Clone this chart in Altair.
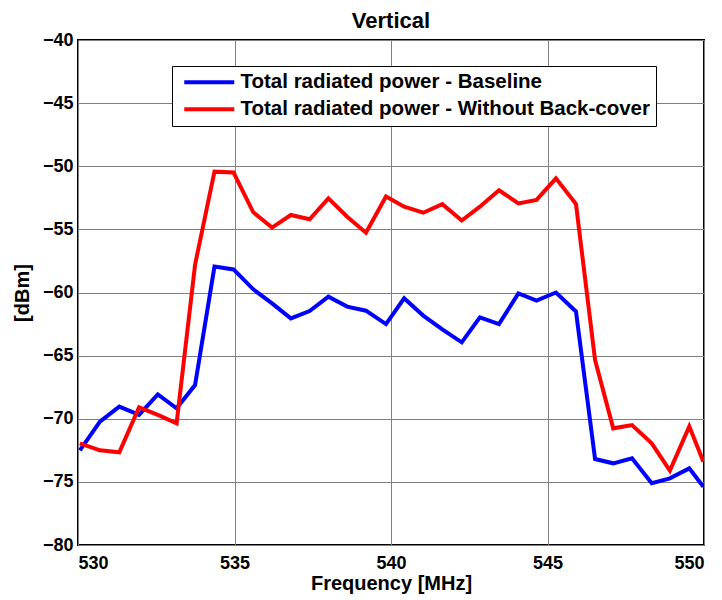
import altair as alt
import pandas as pd

freq = [530.06, 530.70, 531.32, 531.95, 532.55, 533.15, 533.74, 534.36, 534.97, 535.60,
        536.20, 536.80, 537.40, 538.00, 538.60, 539.20, 539.84, 540.42, 541.03, 541.64,
        542.26, 542.84, 543.45, 544.07, 544.65, 545.27, 545.91, 546.52, 547.10, 547.70,
        548.33, 548.91, 549.53, 549.98]

baseline = [-72.5, -70.23, -69.04, -69.7, -68.07, -69.17, -67.33, -57.95, -58.17, -59.75,
            -60.86, -62.05, -61.47, -60.33, -61.12, -61.44, -62.5, -60.46, -61.83, -62.92,
            -63.95, -61.97, -62.5, -60.07, -60.65, -60.0, -61.5, -73.19, -73.53, -73.13,
            -75.11, -74.72, -73.93, -75.38]

without_cover = [-71.95, -72.5, -72.66, -69.1, -69.7, -70.36, -57.8, -50.43, -50.5, -53.65,
                 -54.86, -53.86, -54.2, -52.54, -54.0, -55.26, -52.4, -53.2, -53.68, -53.0,
                 -54.3, -53.2, -51.9, -52.94, -52.67, -50.96, -52.99, -65.35, -70.76, -70.5,
                 -71.95, -74.1, -70.6, -73.4]

series_names = ["Total radiated power - Baseline",
                "Total radiated power - Without Back-cover"]
series_colors = ["#0000FF", "#FF0000"]

x_ticks = [530, 535, 540, 545, 550]
y_ticks = [-80, -75, -70, -65, -60, -55, -50, -45, -40]

n = len(freq)
df = pd.DataFrame({
    "freq": freq + freq,
    "dbm": baseline + without_cover,
    "series": [series_names[0]] * n + [series_names[1]] * n,
    "order": list(range(n)) * 2,
})

FONT = "Liberation Sans"

chart = alt.Chart(df).mark_line(strokeWidth=4, clip=True).encode(
    x=alt.X("freq:Q",
            scale=alt.Scale(domain=[530, 550], nice=False, zero=False),
            axis=alt.Axis(values=x_ticks, title="Frequency [MHz]", labelPadding=9,
                          titlePadding=1, format="d")),
    y=alt.Y("dbm:Q",
            scale=alt.Scale(domain=[-80, -40], nice=False, zero=False),
            axis=alt.Axis(values=y_ticks, title="[dBm]", labelPadding=5,
                          titlePadding=10, format="d")),
    color=alt.Color("series:N",
                    scale=alt.Scale(domain=series_names, range=series_colors),
                    legend=alt.Legend(
                        title=None, orient="none", legendX=94, legendY=26,
                        symbolType="M-5,0H5", symbolSize=100, symbolStrokeWidth=4,
                        symbolOffset=21, labelOffset=21,
                        labelFont=FONT, labelFontSize=20.5, labelFontWeight="bold",
                        labelColor="black", labelLimit=800,
                        padding=6, rowPadding=6,
                        strokeColor="black", fillColor="white")),
    order="order:Q",
).properties(
    width=626, height=505,
    title=alt.TitleParams("Vertical", font=FONT, fontSize=22, fontWeight="bold",
                          color="black", anchor="middle", offset=-2),
    autosize=alt.AutoSizeParams(type="none"),
    padding={"left": 70, "top": 32, "right": 10, "bottom": 55},
).configure_view(
    stroke="black", strokeWidth=2
).configure_axis(
    labelFont=FONT, labelFontSize=18, labelFontWeight="bold", labelColor="black",
    titleFont=FONT, titleFontSize=20, titleFontWeight="bold", titleColor="black",
    ticks=False, domain=False,
    grid=True, gridColor="#808080", gridWidth=1, gridOpacity=1,
)

chart.save("out.html", embed_options={"renderer": "svg", "actions": False})
